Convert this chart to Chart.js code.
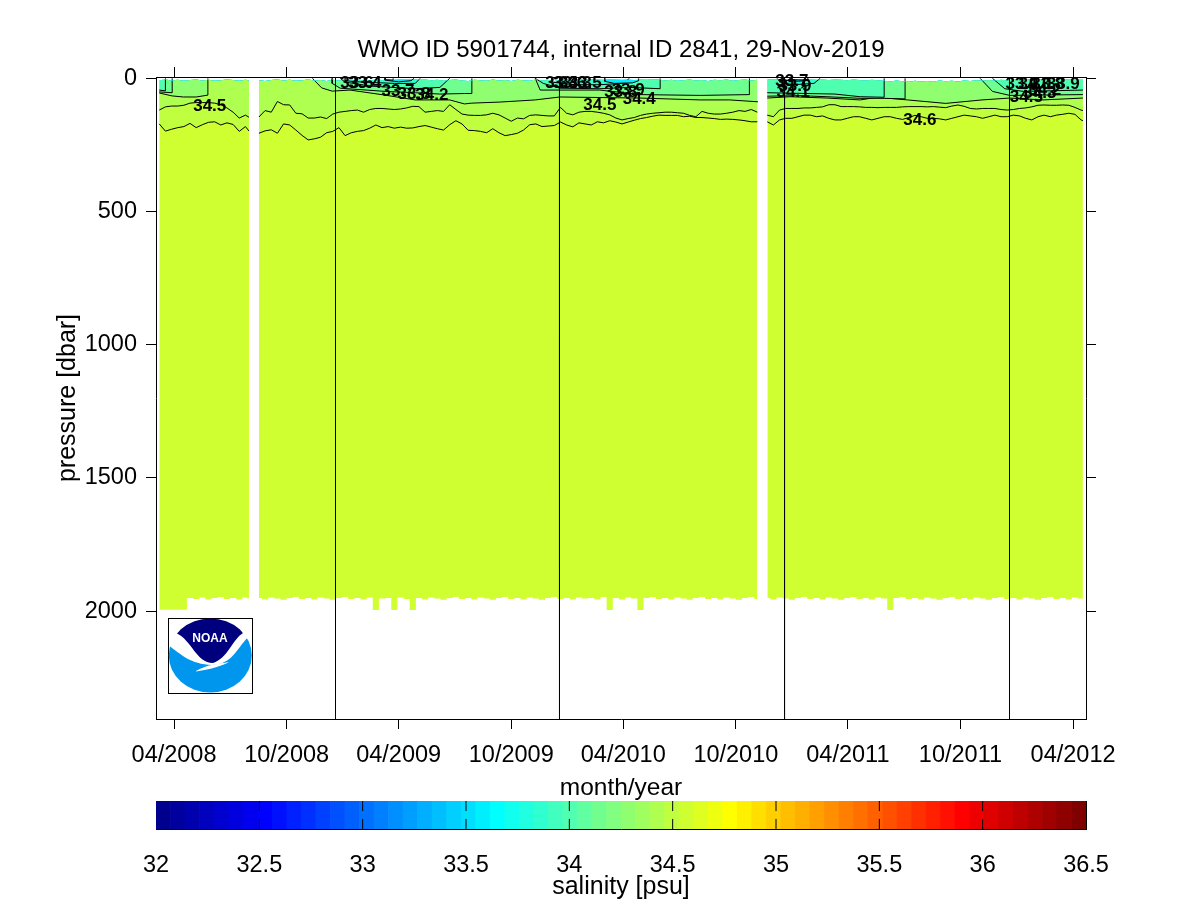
<!DOCTYPE html>
<html>
<head>
<meta charset="utf-8">
<title>WMO ID 5901744</title>
<script src="https://cdn.jsdelivr.net/npm/chart.js@4"></script>
<style>
  html, body { margin: 0; padding: 0; background: #fff; }
  #wrap { position: relative; width: 1200px; height: 900px; }
  canvas { position: absolute; left: 0; top: 0; }
</style>
</head>
<body>
<div id="wrap">
  <canvas id="section" width="1200" height="900"></canvas>
  <canvas id="colorbar" width="1200" height="900"></canvas>
</div>
<script>
// --- data ---
// x is days since 1 April 2008, y is pressure in dbar

const xTickDays = [0, 183, 365, 548, 730, 913, 1095, 1278, 1461];
const xTickLabels = ['04/2008', '10/2008', '04/2009', '10/2009', '04/2010', '10/2010', '04/2011', '10/2011', '04/2012'];
const yTicks = [0, 500, 1000, 1500, 2000];
const yearLineDays = [262.4, 626.4, 992.1, 1357.7];

// one entry per profile, the 130 and 956 entries are the two data gaps
const profileDays = [
  -24, -14, -4, 6, 16, 26, 36, 46, 56, 66, 76, 86, 96, 106, 116, 122,
  130,
  138, 148, 158, 168, 178, 188, 198, 208, 218, 228,
  238, 248, 258, 268, 278, 288, 298, 308, 318, 328,
  338, 348, 358, 368, 378, 388, 398, 408, 418, 428,
  438, 448, 458, 468, 478, 488, 498, 508, 518, 528,
  538, 548, 558, 568, 578, 588, 598, 608, 618, 628,
  638, 648, 658, 668, 678, 688, 698, 708, 718, 728,
  738, 748, 758, 768, 778, 788, 798, 808, 818, 828,
  838, 848, 858, 868, 878, 888, 898, 908, 918, 928,
  938, 948,
  956,
  964, 974, 984, 994, 1004, 1014, 1024, 1034, 1044, 1054,
  1064, 1074, 1084, 1094, 1104, 1114, 1124, 1134, 1144, 1154,
  1164, 1174, 1184, 1194, 1204, 1214, 1224, 1234, 1244, 1254,
  1264, 1274, 1284, 1294, 1304, 1314, 1324, 1334, 1344, 1354,
  1364, 1374, 1384, 1394, 1404, 1414, 1424, 1434, 1444, 1454,
  1464, 1474, 1477
];

// shallowest sample of each profile
const surfaceDepth = [
  8, 5, 9, 6, 10, 7, 5, 9, 6, 10, 8, 5, 7, 10, 6, 9,
  null,
  8, 11, 7, 5, 9, 6, 10, 8, 5, 9,
  7, 11, 6, 9, 5, 8, 10, 6, 9, 5,
  7, 5, 6, 4, 5, 4, 6, 5, 8, 6,
  10, 7, 5, 9, 11, 6, 8, 10, 5, 9,
  7, 11, 6, 8, 10, 5, 9, 7, 11, 6,
  4, 5, 4, 5, 4, 5, 6, 4, 5, 6,
  5, 7, 5, 6, 4, 5, 9, 6, 10, 8,
  5, 9, 7, 11, 6, 8, 5, 10, 7, 5,
  9, 6,
  null,
  5, 4, 5, 4, 4, 5, 4, 5, 6, 5,
  7, 5, 6, 8, 5, 7, 9, 6, 8, 10,
  13, 9, 12, 14, 10, 13, 11, 14, 9, 12,
  10, 13, 9, 11, 8, 10, 7, 9, 6, 8,
  5, 6, 4, 5, 4, 5, 4, 5, 6, 4,
  5, 6, 5
];

// deepest sample of each profile
const bottomDepth = [
  1994, 1994, 1994, 1994, 1994, 1950, 1954, 1948, 1956, 1950, 1946, 1954, 1950, 1956, 1948, 1952,
  null,
  1950, 1956, 1948, 1952, 1957, 1950, 1946, 1954, 1950, 1956,
  1948, 1952, 1957, 1950, 1946, 1954, 1950, 1956, 1948, 1995,
  1952, 1950, 1995, 1948, 1954, 1995, 1950, 1956, 1948, 1952,
  1957, 1950, 1946, 1954, 1950, 1956, 1948, 1952, 1957, 1950,
  1946, 1954, 1950, 1956, 1948, 1952, 1957, 1950, 1946, 1954,
  1950, 1956, 1948, 1952, 1950, 1956, 1946, 1995, 1950, 1956,
  1948, 1952, 1995, 1950, 1946, 1954, 1950, 1956, 1948, 1952,
  1957, 1950, 1946, 1954, 1950, 1956, 1948, 1952, 1957, 1950,
  1946, 1954,
  null,
  1950, 1956, 1948, 1952, 1957, 1950, 1946, 1954, 1950, 1956,
  1948, 1952, 1957, 1950, 1946, 1954, 1950, 1956, 1948, 1952,
  1995, 1950, 1946, 1954, 1950, 1956, 1948, 1952, 1957, 1950,
  1946, 1954, 1950, 1956, 1948, 1952, 1957, 1950, 1946, 1954,
  1950, 1956, 1948, 1952, 1957, 1950, 1946, 1954, 1950, 1956,
  1948, 1952, 1954
];

// depth of the 34.6 contour at each profile
const iso346 = [
  172, 199, 192, 186, 182, 170, 186, 175, 166, 164, 176, 168, 174, 200, 182, 199,
  null,
  207, 198, 194, 207, 172, 176, 195, 215, 232, 228,
  222, 205, 200, 186, 216, 205, 200, 197, 188, 176,
  186, 182, 188, 184, 188, 187, 182, 178, 184, 190,
  195, 175, 160, 172, 196, 197, 200, 205, 190, 205,
  216, 212, 207, 195, 175, 172, 182, 180, 178, 165,
  176, 183, 168, 172, 176, 164, 168, 160, 165, 172,
  165, 158, 152, 148, 143, 139, 140, 140, 140, 145,
  143, 148, 148, 150, 152, 155, 154, 155, 157, 160,
  164, 164,
  null,
  164, 176, 157, 151, 151, 145, 139, 139, 145, 142,
  151, 157, 157, 151, 145, 145, 151, 157, 151, 145,
  145, 151, 155, 148, 140, 145, 151, 151, 153, 157,
  151, 145, 139, 142, 145, 151, 145, 139, 145, 145,
  139, 142, 151, 157, 145, 139, 145, 139, 136, 132,
  136, 157, 160
];

// depth of the 34.5 contour at each profile
const iso345 = [
  120, 108, 105, 105, 102, 94, 92, 92, 92, 94, 100, 112, 128, 150, 139, 147,
  null,
  146, 122, 128, 88, 100, 101, 132, 134, 150, 150,
  146, 152, 135, 128, 125, 122, 120, 128, 118, 114,
  114, 116, 118, 116, 112, 106, 107, 128, 125, 122,
  125, 100, 118, 135, 139, 140, 140, 138, 132, 138,
  150, 162, 150, 153, 140, 138, 140, 142, 142, 110,
  132, 138, 128, 125, 125, 128, 132, 138, 150, 157,
  152, 148, 140, 135, 132, 130, 128, 128, 130, 132,
  140, 145, 125, 132, 135, 135, 132, 128, 122, 125,
  118, 128,
  null,
  139, 145, 120, 114, 114, 114, 112, 112, 110, 108,
  100, 100, 107, 107, 107, 108, 110, 110, 111, 110,
  110, 110, 108, 107, 107, 107, 108, 107, 109, 111,
  105, 101, 106, 114, 116, 114, 114, 114, 118, 120,
  118, 114, 112, 108, 102, 101, 102, 102, 101, 102,
  110, 120, 122
];

// shallower contours, read as knots. depth 0 means the contour has reached the surface
const iso344Days = [-24, -3, 15, 36, 55, 55, 122, 130, 138, 225, 229, 240, 257, 286, 343, 392, 448, 472, 484, 530, 587, 627, 757, 855, 903, 949, 956, 964, 1001, 1061, 1115, 1143, 1192, 1254, 1313, 1358, 1412, 1477];
const iso344Depth = [56, 67, 71, 71, 64, 0, 0, null, 0, 0, 11, 37, 49, 45, 64, 82, 82, 97, 94, 90, 82, 71, 75, 82, 82, 89, null, 75, 70, 75, 82, 72, 82, 95, 82, 75, 82, 75];

const iso342Days = [-24, -3, -3, 122, 130, 138, 257, 257, 270, 343, 392, 432, 472, 484, 484, 587, 595, 627, 692, 757, 855, 935, 935, 949, 956, 964, 1017, 1061, 1115, 1154, 1188, 1188, 1310, 1330, 1358, 1477];
const iso342Depth = [52, 55, 0, 0, null, 0, 0, 20, 38, 50, 55, 60, 58, 58, 0, 0, 45, 45, 45, 62, 65, 62, 0, 0, null, 68, 66, 70, 76, 76, 78, 0, 0, 50, 65, 62];

const iso340Days = [-24, -14, -14, 122, 130, 138, 270, 278, 319, 392, 432, 448, 587, 600, 627, 692, 740, 790, 790, 949, 956, 964, 1074, 1115, 1154, 1154, 1330, 1350, 1380, 1477];
const iso340Depth = [45, 48, 0, 0, null, 0, 0, 15, 30, 40, 35, 0, 0, 20, 38, 40, 35, 40, 0, 0, null, 55, 60, 70, 72, 0, 0, 40, 50, 45];

const iso338Days = [-24, 122, 130, 138, 278, 278, 305, 358, 392, 400, 614, 614, 650, 692, 730, 740, 949, 956, 964, 980, 985, 1005, 1040, 1050, 1477];
const iso338Depth = [0, 0, null, 0, 0, 10, 15, 20, 20, 0, 0, 15, 25, 25, 20, 0, 0, null, 0, 0, 15, 25, 20, 0, 0];

const iso336Days = [-24, 122, 130, 138, 343, 343, 365, 385, 390, 700, 700, 715, 745, 755, 755, 949, 956, 964, 990, 990, 1015, 1030, 1030, 1477];
const iso336Depth = [0, 0, null, 0, 0, 8, 14, 10, 0, 0, 12, 20, 18, 10, 0, 0, null, 0, 0, 8, 12, 8, 0, 0];

const iso334Days = [-24, 122, 130, 138, 343, 343, 356, 356, 949, 956, 964, 1001, 1001, 1030, 1030, 1477];
const iso334Depth = [0, 0, null, 0, 0, 6, 8, 0, 0, null, 0, 0, 6, 8, 0, 0];

const shadeColors = ['#AFFF50', '#8FFF70', '#6FFF90', '#4FFFAF', '#2FFFCF', '#00EFFF', '#00BFFF'];
const deepColors = ['#CFFF30', '#BFFF40'];

// contour labels, they overlap a lot in the original
const contourLabels = ['34.5', '33.6', '33.4', '33.7', '33.8', '34.2', '33.4', '33.6', '33.3', '33.5', '33.8', '33.9', '34.4', '34.5', '33.7', '34.1', '33.9', '34.6', '33.9', '34.0', '33.8', '33.9', '34.2', '34.5', '34.3'];
const contourLabelDays = [58, 297, 310, 364, 390, 419, 630, 643, 652, 668, 726, 738, 756, 692, 1004, 1006, 1009, 1212, 1378, 1399, 1420, 1445, 1415, 1385, 1407];
const contourLabelDepths = [105, 19, 19, 49, 60, 64, 19, 19, 19, 19, 52, 45, 79, 101, 11, 52, 30, 157, 22, 22, 22, 22, 45, 71, 56];

// colorbar
const barMin = 32;
const barMax = 36.5;
const barTicks = [32, 32.5, 33, 33.5, 34, 34.5, 35, 35.5, 36, 36.5];
const barCells = 64;

// --- helpers ---
const FONT = '"Liberation Sans", Arial, sans-serif';
const BLACK = '#000';
const TOP_OF_PLOT = 1;  // above every surface sample

function jet(i) {
  const ramp = (v) => Math.round(255 * Math.max(0, Math.min(1, v)));
  const t = 4 * (i + 1) / barCells;
  return 'rgb(' + ramp(Math.min(t - 1.5, 4.5 - t)) + ',' + ramp(Math.min(t - 0.5, 3.5 - t)) + ',' + ramp(Math.min(t + 0.5, 2.5 - t)) + ')';
}

function toPoints(days, depths) {
  return days.map((d, i) => ({
    x: d,
    y: depths[i] === 0 ? TOP_OF_PLOT : depths[i],
    atTop: depths[i] === 0
  }));
}

// --- section chart ---
const datasets = [];

// surface line: everything else fills up to it
datasets.push({
  label: 'surface', data: toPoints(profileDays, surfaceDepth),
  borderColor: 'transparent', borderWidth: 0, pointRadius: 0, order: 50
});
const SURFACE = 0;

function addBand(label, data, color, order, lineWidth, extra) {
  datasets.push(Object.assign({
    label: label, data: data, borderColor: BLACK, borderWidth: lineWidth, pointRadius: 0,
    tension: 0, spanGaps: false, order: order,
    backgroundColor: color,
    // only the part below the surface line gets painted
    fill: { target: SURFACE, above: 'rgba(0,0,0,0)', below: color },
    segment: {
      borderColor: (ctx) => (data[ctx.p0DataIndex].atTop && data[ctx.p1DataIndex].atTop ? 'transparent' : undefined)
    }
  }, extra || {}));
}

addBand('bottom', toPoints(profileDays, bottomDepth), deepColors[0], 40, 0, { borderColor: 'transparent', stepped: 'middle' });
addBand('34.6', toPoints(profileDays, iso346), deepColors[1], 39, 1);
addBand('34.5', toPoints(profileDays, iso345), shadeColors[0], 38, 1);
addBand('34.4', toPoints(iso344Days, iso344Depth), shadeColors[1], 37, 1);
addBand('34.2', toPoints(iso342Days, iso342Depth), shadeColors[2], 36, 1);
addBand('34.0', toPoints(iso340Days, iso340Depth), shadeColors[3], 35, 1);
addBand('33.8', toPoints(iso338Days, iso338Depth), shadeColors[4], 34, 1);
addBand('33.6', toPoints(iso336Days, iso336Depth), shadeColors[5], 33, 1);
addBand('33.4', toPoints(iso334Days, iso334Depth), shadeColors[6], 32, 1);

// black lines at the turn of each deployment year
yearLineDays.forEach((d) => {
  datasets.push({
    label: 'year', data: [{ x: d, y: -4 }, { x: d, y: 2404 }],
    borderColor: BLACK, borderWidth: 1, pointRadius: 0, order: 5
  });
});

const contourLabelPlugin = {
  id: 'contourLabels',
  afterDatasetsDraw(chart) {
    const c = chart.ctx;
    c.save();
    c.font = 'bold 17px ' + FONT;
    c.fillStyle = BLACK;
    c.textAlign = 'center';
    c.textBaseline = 'middle';
    contourLabels.forEach((t, i) => {
      c.fillText(t, chart.scales.x.getPixelForValue(contourLabelDays[i]), chart.scales.y.getPixelForValue(contourLabelDepths[i]));
    });
    c.restore();
  }
};

// NOAA logo in the lower left of the plot
const logoPlugin = {
  id: 'noaaLogo',
  afterDraw(chart) {
    const c = chart.ctx;
    c.save();
    c.fillStyle = '#fff';
    c.fillRect(168, 618, 84, 75);
    c.strokeStyle = BLACK;
    c.lineWidth = 1;
    c.strokeRect(168.5, 618.5, 84, 75);

    c.beginPath();
    c.ellipse(210.3, 655.5, 41.5, 37, 0, 0, Math.PI * 2);
    c.save();
    c.clip();
    // blue lower part
    c.fillStyle = '#0096EE';
    c.beginPath();
    c.moveTo(168, 645);
    c.bezierCurveTo(182, 655, 190, 664, 212, 665);
    c.bezierCurveTo(232, 664, 236, 650, 248, 637);
    c.lineTo(254, 637);
    c.lineTo(254, 695);
    c.lineTo(168, 695);
    c.closePath();
    c.fill();
    // navy upper part
    c.fillStyle = '#00007F';
    c.beginPath();
    c.moveTo(176, 633);
    c.bezierCurveTo(190, 612, 230, 612, 243, 633);
    c.bezierCurveTo(232, 640, 228, 658, 213, 663);
    c.bezierCurveTo(196, 663, 192, 640, 176, 633);
    c.closePath();
    c.fill();
    c.restore();
    // white bird
    c.fillStyle = '#fff';
    c.beginPath();
    c.moveTo(196, 671);
    c.bezierCurveTo(208, 664, 218, 664, 229, 662);
    c.bezierCurveTo(222, 666, 212, 669, 196, 671.5);
    c.closePath();
    c.fill();
    c.font = 'bold 12px ' + FONT;
    c.textAlign = 'center';
    c.textBaseline = 'middle';
    c.fillText('NOAA', 210, 638.5);
    c.restore();
  }
};

const tickFont = { family: FONT, size: 23.5 };
const titleFont = { family: FONT, size: 24 };
const axisTitleFont = { family: FONT, size: 24.5 };
const tickGrid = { display: true, drawOnChartArea: false, drawTicks: true, tickLength: 10, color: BLACK, lineWidth: 1 };
const frameBorder = { display: true, color: BLACK, width: 1 };

new Chart(document.getElementById('section'), {
  type: 'line',
  data: { datasets: datasets },
  plugins: [contourLabelPlugin, logoPlugin],
  options: {
    responsive: false,
    animation: false,
    events: [],
    layout: { padding: 0 },
    plugins: { legend: { display: false }, tooltip: { enabled: false }, title: { display: false } },
    scales: {
      x: {
        type: 'linear', position: 'bottom', min: -29.3, max: 1482,
        border: frameBorder, grid: tickGrid,
        afterBuildTicks: (s) => { s.ticks = xTickDays.map((v) => ({ value: v })); },
        afterFit: (s) => { s.height = 181; },
        ticks: {
          color: BLACK, font: tickFont, padding: 12, maxRotation: 0, autoSkip: false,
          callback: (v) => xTickLabels[xTickDays.indexOf(v)]
        },
        title: { display: true, text: 'month/year', color: BLACK, font: axisTitleFont, padding: { top: 0, bottom: 97 } }
      },
      xTop: {
        type: 'linear', position: 'top', min: -29.3, max: 1482,
        border: frameBorder, grid: tickGrid,
        afterBuildTicks: (s) => { s.ticks = xTickDays.map((v) => ({ value: v })); },
        afterFit: (s) => { s.height = 77; },
        ticks: { display: false },
        title: { display: true, text: 'WMO ID 5901744, internal ID 2841, 29-Nov-2019', color: BLACK, font: titleFont, padding: { top: 36, bottom: 0 } }
      },
      y: {
        type: 'linear', position: 'left', reverse: true, min: -4, max: 2404,
        border: frameBorder, grid: tickGrid,
        afterBuildTicks: (s) => { s.ticks = yTicks.map((v) => ({ value: v })); },
        afterFit: (s) => { s.width = 156; },
        ticks: { color: BLACK, font: tickFont, padding: 9, callback: (v) => String(v) },
        title: { display: true, text: 'pressure [dbar]', color: BLACK, font: { family: FONT, size: 25 }, padding: { top: 53, bottom: 0 } }
      },
      yRight: {
        type: 'linear', position: 'right', reverse: true, min: -4, max: 2404,
        border: frameBorder, grid: tickGrid,
        afterBuildTicks: (s) => { s.ticks = yTicks.map((v) => ({ value: v })); },
        afterFit: (s) => { s.width = 114; },
        ticks: { display: false }
      }
    }
  }
});

// --- colorbar chart ---
const cellWidth = (barMax - barMin) / barCells;
const cellCenters = [];
const cellColors = [];
for (let i = 0; i < barCells; i++) {
  cellCenters.push(barMin + (i + 0.5) * cellWidth);
  cellColors.push(jet(i));
}

const barTickData = [];
barTicks.slice(1, -1).forEach((t) => {
  barTickData.push({ x: t, y: 0 }, { x: t, y: 0.36 }, { x: t, y: null }, { x: t, y: 0.64 }, { x: t, y: 1 }, { x: t, y: null });
});

new Chart(document.getElementById('colorbar'), {
  type: 'bar',
  data: {
    datasets: [
      {
        type: 'line', data: barTickData, borderColor: BLACK, borderWidth: 1, pointRadius: 0,
        spanGaps: false, order: 1
      },
      {
        type: 'bar', data: cellCenters.map((v) => ({ x: v, y: [0, 1] })), backgroundColor: cellColors,
        barPercentage: 1, categoryPercentage: 1, borderWidth: 0, order: 2
      }
    ]
  },
  options: {
    responsive: false,
    animation: false,
    events: [],
    layout: { padding: 0 },
    plugins: { legend: { display: false }, tooltip: { enabled: false } },
    scales: {
      x: {
        type: 'linear', position: 'bottom', min: barMin, max: barMax, offset: false,
        border: frameBorder, grid: { display: false },
        afterBuildTicks: (s) => { s.ticks = barTicks.map((v) => ({ value: v })); },
        afterFit: (s) => { s.height = 71; },
        ticks: { color: BLACK, font: tickFont, padding: 14, maxRotation: 0, autoSkip: false, callback: (v) => String(v) },
        title: { display: true, text: 'salinity [psu]', color: BLACK, font: { family: FONT, size: 25, lineHeight: 1 }, padding: { top: 0, bottom: 0 } }
      },
      xTop: {
        type: 'linear', position: 'top', min: barMin, max: barMax,
        border: frameBorder, grid: { display: false }, ticks: { display: false },
        afterFit: (s) => { s.height = 801; }
      },
      y: {
        type: 'linear', position: 'left', min: 0, max: 1,
        border: frameBorder, grid: { display: false }, ticks: { display: false },
        afterFit: (s) => { s.width = 156; }
      },
      yRight: {
        type: 'linear', position: 'right', min: 0, max: 1,
        border: frameBorder, grid: { display: false }, ticks: { display: false },
        afterFit: (s) => { s.width = 114; }
      }
    }
  }
});
</script>
</body>
</html>
